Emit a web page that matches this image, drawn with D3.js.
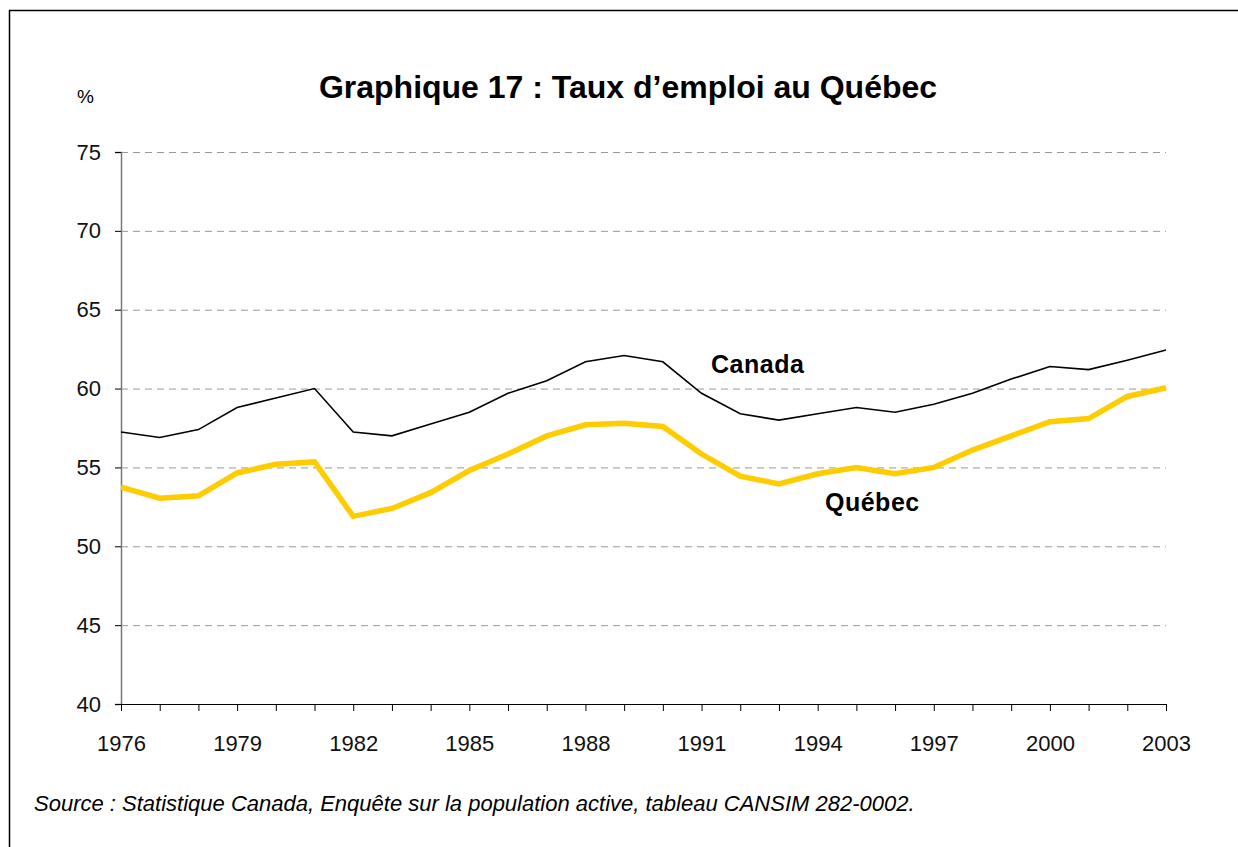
<!DOCTYPE html>
<html>
<head>
<meta charset="utf-8">
<script src="https://cdn.jsdelivr.net/npm/d3@7"></script>
<style>
  body { margin: 0; background: #fff; }
  text { font-family: "Liberation Sans", Arial, sans-serif; }
</style>
</head>
<body>
<script>
const years = d3.range(1976, 2004);
const canada = [57.25, 56.9, 57.4, 58.8, 59.4, 60.0, 57.25, 57.0, 57.75, 58.5,
  59.7, 60.5, 61.7, 62.1, 61.7, 59.7, 58.4, 58.0, 58.4, 58.8,
  58.5, 59.0, 59.7, 60.6, 61.4, 61.2, 61.8, 62.45];
const quebec = [53.75, 53.05, 53.2, 54.65, 55.2, 55.35, 51.9, 52.4, 53.4, 54.8,
  55.85, 57.0, 57.7, 57.8, 57.6, 55.85, 54.45, 53.95, 54.6, 55.0,
  54.6, 55.0, 56.1, 57.0, 57.9, 58.1, 59.5, 60.05];
const yTicks = [40, 45, 50, 55, 60, 65, 70, 75];
const xTickLabels = [1976, 1979, 1982, 1985, 1988, 1991, 1994, 1997, 2000, 2003];

const width = 1238, height = 847;
const margin = {left: 121, right: 72, top: 152, bottom: 143};

const svg = d3.select("body").append("svg")
    .attr("width", width)
    .attr("height", height);

// outer frame (only top and left visible in the picture)
svg.append("rect")
    .attr("x", 9.5).attr("y", 10.5)
    .attr("width", width + 20).attr("height", height + 20)
    .attr("fill", "none")
    .attr("stroke", "#000")
    .attr("stroke-width", 1.5);

const x = d3.scaleLinear().domain([1976, 2003]).range([margin.left, width - margin.right]);
const y = d3.scaleLinear().domain([40, 75]).range([height - margin.bottom, margin.top]);

// gridlines
svg.append("g")
    .selectAll("line")
    .data(yTicks.filter(d => d > 40))
    .enter().append("line")
    .attr("x1", x(1976)).attr("x2", x(2003))
    .attr("y1", d => y(d) + 0.5).attr("y2", d => y(d) + 0.5)
    .attr("stroke", "#999")
    .attr("stroke-dasharray", "7,5");

// y axis
const yAxis = svg.append("g")
    .attr("transform", `translate(${x(1976)},0)`)
    .call(d3.axisLeft(y).tickValues(yTicks).tickSize(6).tickPadding(14));
yAxis.select(".domain").attr("stroke", "#777").attr("stroke-width", 1.5);
yAxis.selectAll(".tick line").attr("stroke", "#000");
yAxis.selectAll(".tick text").style("font-size", "22px").attr("fill", "#111");

// x axis
const xAxis = svg.append("g")
    .attr("transform", `translate(0,${y(40)})`)
    .call(d3.axisBottom(x).tickValues(years).tickSize(7).tickSizeOuter(0).tickPadding(12)
      .tickFormat(d => xTickLabels.includes(d) ? d : ""));
xAxis.select(".domain").attr("stroke", "#000");
xAxis.selectAll(".tick line").attr("stroke", "#000");
xAxis.selectAll(".tick text")
    .style("font-size", "22px").attr("fill", "#111")
    .attr("dy", null).attr("y", 47);

const line = d3.line().x((d, i) => x(years[i])).y(d => y(d));

svg.append("path")
    .datum(quebec)
    .attr("d", line)
    .attr("fill", "none")
    .attr("stroke", "#ffcc00")
    .attr("stroke-width", 5.5)
    .attr("stroke-linejoin", "miter");

svg.append("path")
    .datum(canada)
    .attr("d", line)
    .attr("fill", "none")
    .attr("stroke", "#000")
    .attr("stroke-width", 1.6);

// series labels
svg.append("text")
    .attr("x", 711).attr("y", 373)
    .style("font-size", "25px").style("font-weight", "bold")
    .style("letter-spacing", "0.5px")
    .text("Canada");
svg.append("text")
    .attr("x", 825).attr("y", 511)
    .style("font-size", "25px").style("font-weight", "bold")
    .style("letter-spacing", "0.5px")
    .text("Québec");

// title
svg.append("text")
    .attr("x", 628).attr("y", 98)
    .attr("text-anchor", "middle")
    .style("font-size", "32px").style("font-weight", "bold")
    .text("Graphique 17 : Taux d’emploi au Québec");

svg.append("text")
    .attr("x", 77).attr("y", 103)
    .style("font-size", "19px")
    .text("%");

// source
svg.append("text")
    .attr("x", 34).attr("y", 811)
    .style("font-size", "22px").style("font-style", "italic")
    .text("Source : Statistique Canada, Enquête sur la population active, tableau CANSIM 282-0002.");
</script>
</body>
</html>
